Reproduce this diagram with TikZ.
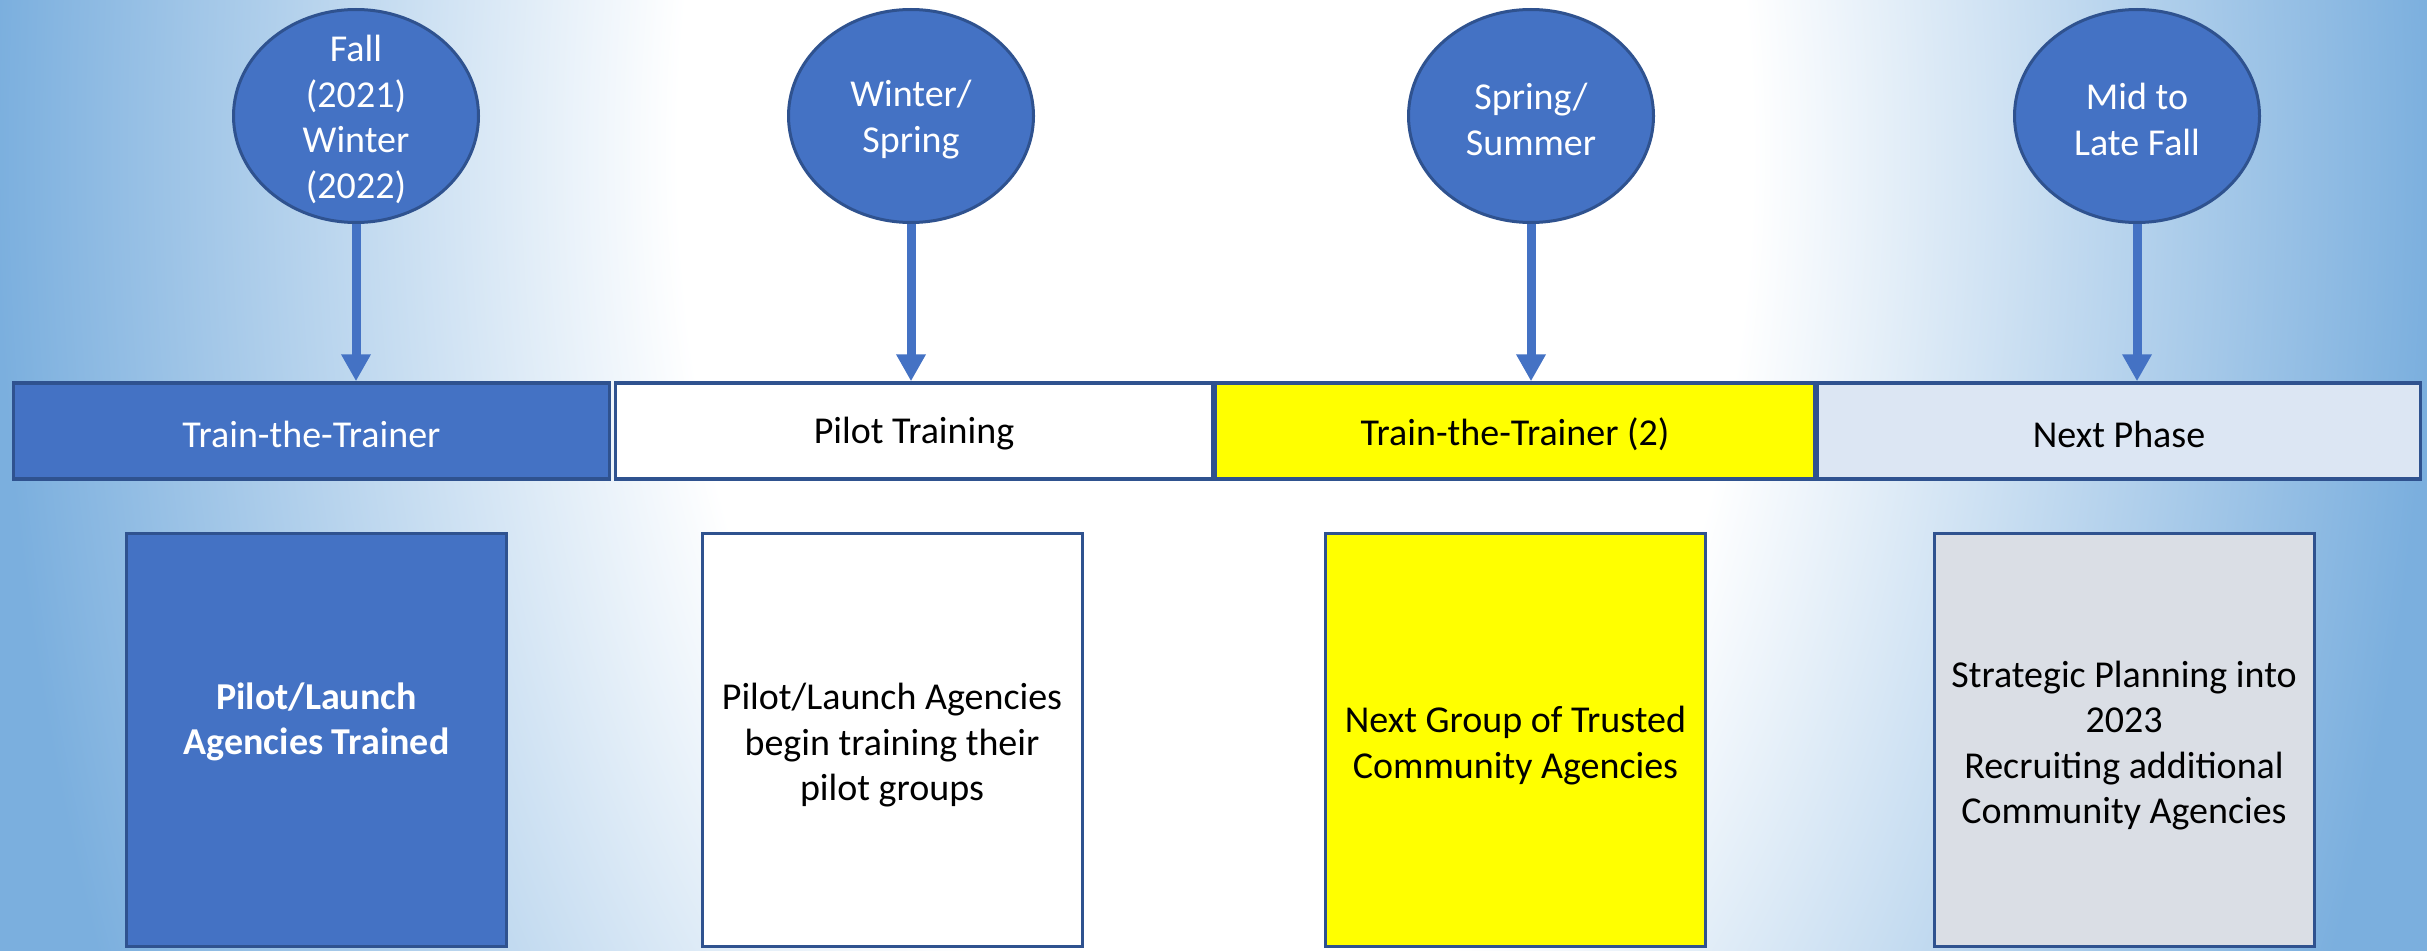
\documentclass[tikz,border=0pt]{standalone}
\usepackage{fontspec}
\setmainfont{Carlito}
\usetikzlibrary{shapes.geometric,arrows.meta}
\definecolor{accent}{HTML}{4472C4}
\definecolor{edge}{HTML}{2F528F}
\definecolor{bgblue}{HTML}{7BAFDE}
\definecolor{paleblue}{HTML}{DCE6F3}
\definecolor{greybox}{HTML}{DADEE5}
\definecolor{yel}{HTML}{FFFF00}
\pgfdeclareradialshading{bgshade}{\pgfpoint{0bp}{0bp}}{color(0bp)=(white); color(11bp)=(white); color(25bp)=(bgblue); color(50bp)=(bgblue)}
\tikzset{
  lbl/.style={align=center, inner sep=0pt, font=\fontsize{38}{45.5}\selectfont},
  circ/.style={ellipse, draw=edge, line width=3pt, fill=accent, minimum width=245pt, minimum height=213pt, inner sep=0pt},
  ctext/.style={lbl, text=white, yshift=-3.5pt},
  seg/.style={rectangle, draw=edge, line width=3.5pt, minimum width=#1, minimum height=96pt, inner sep=0pt},
  stext/.style={lbl, yshift=-3pt},
  card/.style={rectangle, draw=edge, line width=3pt, minimum width=380pt, minimum height=413pt, inner sep=0pt},
  ktext/.style={lbl, yshift=-5.5pt},
  link/.style={draw=accent, line width=9pt, -{Triangle[width=28pt,length=27pt]}},
}
\begin{document}
\begin{tikzpicture}[x=1pt,y=-1pt]
\useasboundingbox (0,0) rectangle (2427,950);
\fill[bgblue] (0,0) rectangle (2427,950);
\begin{scope}
  \clip (0,0) rectangle (2427,950);
  \pgftransformshift{\pgfpoint{1215pt}{-150pt}}
  \pgftransformxscale{48.6}
  \pgftransformyscale{80}
  \pgftext{\pgfuseshading{bgshade}}
\end{scope}

% circles
\node[circ] (c1) at (356,116) {};
\node[circ] (c2) at (911,116) {};
\node[circ] (c3) at (1531,116) {};
\node[circ] (c4) at (2137,116) {};
\node[ctext] (t1) at (c1) {Fall\\(2021)\\Winter\\(2022)};
\node[ctext] (t2) at (c2) {Winter/\\Spring};
\node[ctext] (t3) at (c3) {Spring/\\Summer};
\node[ctext] (t4) at (c4) {Mid to\\Late Fall};

% timeline bar
\node[seg=596pt, fill=accent] (s1) at (311.5,431) {};
\node[seg=597pt, fill=white] (s2) at (914,431) {};
\node[seg=599pt, fill=yel] (s3) at (1515,431) {};
\node[seg=603pt, fill=paleblue] (s4) at (2119,431) {};
\node[stext, text=white] (u1) at (s1) {Train-the-Trainer};
\node[stext] (u2) at (s2) {Pilot Training};
\node[stext] (u3) at (s3) {Train-the-Trainer (2)};
\node[stext] (u4) at (s4) {Next Phase};

% arrows
\draw[link] (c1.south) -- (c1.south |- s1.north);
\draw[link] (c2.south) -- (c2.south |- s2.north);
\draw[link] (c3.south) -- (c3.south |- s3.north);
\draw[link] (c4.south) -- (c4.south |- s4.north);

% cards
\node[card, fill=accent] (b1) at (316.5,740) {};
\node[card, fill=white] (b2) at (892,740) {};
\node[card, fill=yel] (b3) at (1515.5,740) {};
\node[card, fill=greybox] (b4) at (2124,740) {};
\node[lbl, text=white, font=\fontsize{38}{45.5}\selectfont\bfseries, yshift=18pt] (k1) at (b1) {Pilot/Launch\\Agencies Trained};
\node[ktext] (k2) at (b2) {Pilot/Launch Agencies\\begin training their\\pilot groups};
\node[ktext] (k3) at (b3) {Next Group of Trusted\\Community Agencies};
\node[ktext] (k4) at (b4) {Strategic Planning into\\2023\\Recruiting additional\\Community Agencies};
\end{tikzpicture}
\end{document}
